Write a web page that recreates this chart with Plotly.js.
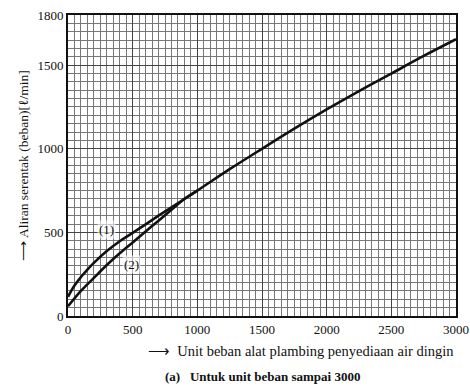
<!DOCTYPE html>
<html>
<head>
<meta charset="utf-8">
<script src="https://cdn.plot.ly/plotly-3.0.1.min.js"></script>
<style>html,body{margin:0;padding:0;background:#fff;}#chart{width:470px;height:390px;}</style>
</head>
<body>
<div id="chart"></div>
<script>
// Curve (1)
const curve1X = [0, 50, 100, 150, 200, 300, 400, 500, 600, 700, 800, 900, 1000, 1250, 1500, 1750, 2000, 2250, 2500, 2750, 3000];
const curve1Y = [115, 182, 233, 278, 318, 388, 447, 497, 548, 600, 650, 700, 750, 878, 1000, 1120, 1235, 1345, 1450, 1555, 1655];
// Curve (2)
const curve2X = [0, 100, 200, 300, 400, 500, 600, 700, 800, 900, 1000];
const curve2Y = [58, 150, 228, 305, 375, 440, 505, 570, 635, 700, 750];
const xTicks = [0, 500, 1000, 1500, 2000, 2500, 3000];
const yTicks = [0, 500, 1000, 1500, 1800];
const curveLabels = ["(1)", "(2)"];
const curveLabelX = [300, 490];
const curveLabelY = [515, 310];
const yTitle = "⟶ Aliran serentak (beban)[ℓ/min]";
const xTitle = "⟶  Unit beban alat plambing penyediaan air dingin";
const caption = "(a)   Untuk unit beban sampai 3000";

const font = {family: "Liberation Serif, Times New Roman, serif", color: "#111"};
const f = s => Object.assign({size: s}, font);

const traces = [
  {x: curve1X, y: curve1Y, mode: "lines", line: {color: "#111", width: 2.6, shape: "spline"}, hoverinfo: "skip"},
  {x: curve2X, y: curve2Y, mode: "lines", line: {color: "#111", width: 2.6, shape: "spline"}, hoverinfo: "skip"}
];

const gridCol = "#777";
const layout = {
  width: 470, height: 390,
  margin: {l: 68, r: 14, t: 15, b: 74},
  paper_bgcolor: "#fff", plot_bgcolor: "#fff",
  showlegend: false,
  font: f(13),
  xaxis: {
    range: [0, 3000], tickvals: xTicks, ticktext: xTicks.map(String),
    showgrid: true, gridcolor: "#444", gridwidth: 1,
    minor: {dtick: 50, showgrid: true, gridcolor: gridCol, gridwidth: 1},
    showline: true, linecolor: "#111", linewidth: 2, mirror: true,
    zeroline: false, ticks: "", tickfont: f(13),
    fixedrange: true
  },
  yaxis: {
    range: [0, 1800], tickvals: yTicks, ticktext: yTicks.map(String),
    showgrid: true, gridcolor: "#444", gridwidth: 1,
    minor: {dtick: 50, showgrid: true, gridcolor: gridCol, gridwidth: 1},
    showline: true, linecolor: "#111", linewidth: 2, mirror: true,
    zeroline: false, ticks: "", tickfont: f(13),
    title: {text: yTitle, font: f(13.5), standoff: 6},
    fixedrange: true
  },
  annotations: [
    {x: curveLabelX[0], y: curveLabelY[0], xref: "x", yref: "y", text: curveLabels[0], showarrow: false, font: f(13), bgcolor: "rgba(255,255,255,0.6)"},
    {x: curveLabelX[1], y: curveLabelY[1], xref: "x", yref: "y", text: curveLabels[1], showarrow: false, font: f(13), bgcolor: "rgba(255,255,255,0.6)"},
    {x: 0.6, y: -0.115, xref: "paper", yref: "paper", text: xTitle, showarrow: false, xanchor: "center", yanchor: "middle", font: f(14.5)},
    {x: 0.5, y: -0.2, xref: "paper", yref: "paper", text: "<b>" + caption + "</b>", showarrow: false, xanchor: "center", yanchor: "middle", font: f(13)}
  ]
};

Plotly.newPlot("chart", traces, layout, {staticPlot: true, displayModeBar: false});
</script>
</body>
</html>
